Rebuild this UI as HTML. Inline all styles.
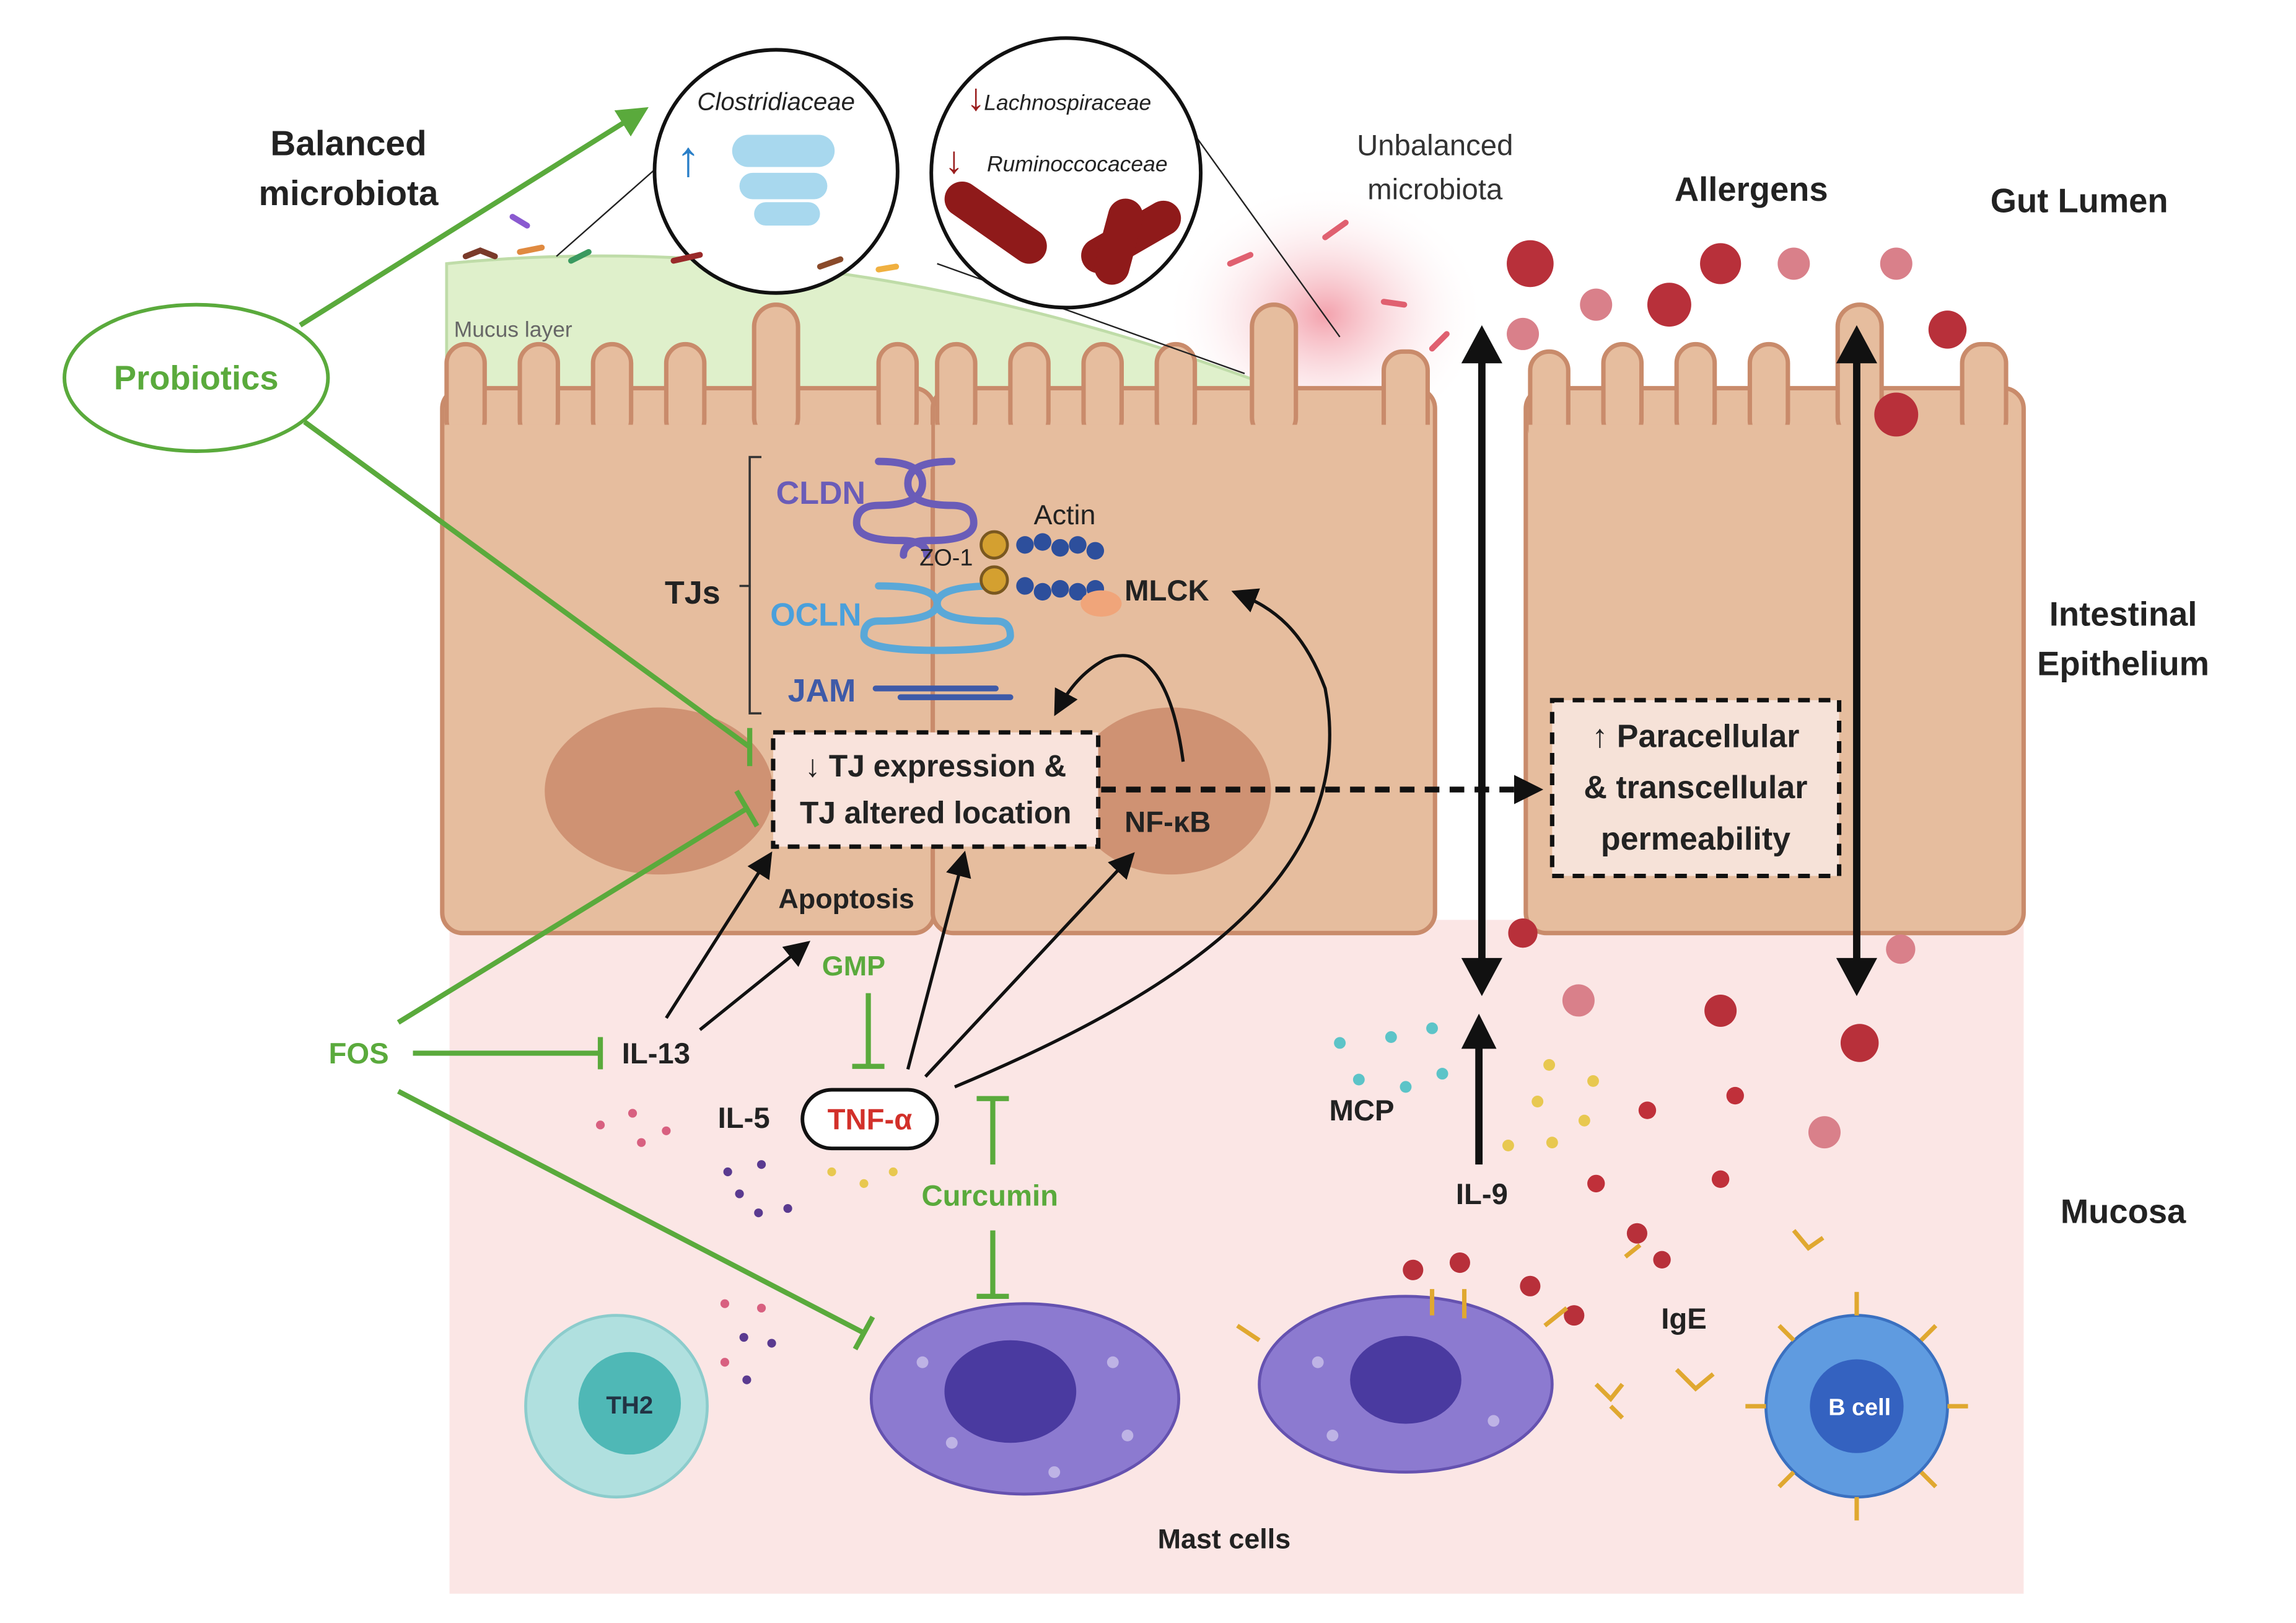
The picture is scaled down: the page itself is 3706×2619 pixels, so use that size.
<!DOCTYPE html>
<html><head><meta charset="utf-8"><style>
html,body{margin:0;padding:0;background:#fff}
svg{display:block}
text{font-family:"Liberation Sans",Arial,sans-serif}
</style></head><body>
<svg width="3706" height="2619" viewBox="0 0 1568 1108" preserveAspectRatio="none" xmlns="http://www.w3.org/2000/svg">
<defs>
<marker id="ah" markerWidth="8" markerHeight="8" refX="6" refY="4" orient="auto" markerUnits="strokeWidth"><path d="M0,0 L8,4 L0,8 z" fill="#111"/></marker>
<marker id="big" markerWidth="5" markerHeight="5" refX="4" refY="2.5" orient="auto" markerUnits="strokeWidth"><path d="M0,0 L5,2.5 L0,5 z" fill="#111"/></marker>
<marker id="gah" markerWidth="6" markerHeight="6" refX="5" refY="3" orient="auto" markerUnits="strokeWidth"><path d="M0,0 L6,3 L0,6 z" fill="#5aaa3c"/></marker>
<radialGradient id="red" cx="0.5" cy="0.5" r="0.5"><stop offset="0" stop-color="#f08a98" stop-opacity="0.8"/><stop offset="1" stop-color="#fff" stop-opacity="0"/></radialGradient>
</defs>
<rect x="307" y="628" width="1075" height="460" fill="#fbe6e5"/>
<ellipse cx="905" cy="215" rx="110" ry="90" fill="url(#red)"/>
<path d="M305,180 Q600,150 935,290 L935,300 L305,300 z" fill="#dff0cb" stroke="#bfdca8" stroke-width="2"/>
<text x="310" y="230" font-size="15" fill="#666">Mucus layer</text>
<g fill="#e6bd9e" stroke="#c98b6b" stroke-width="3">
<rect x="302" y="265" width="336" height="372" rx="14"/>
<rect x="637" y="265" width="343" height="372" rx="14"/>
<rect x="1042" y="265" width="340" height="372" rx="14"/>
<g>
<rect x="305" y="235" width="26" height="65" rx="13"/><rect x="355" y="235" width="26" height="65" rx="13"/><rect x="405" y="235" width="26" height="65" rx="13"/><rect x="455" y="235" width="26" height="65" rx="13"/><rect x="515" y="208" width="30" height="92" rx="15"/><rect x="600" y="235" width="26" height="65" rx="13"/>
<rect x="640" y="235" width="26" height="65" rx="13"/><rect x="690" y="235" width="26" height="65" rx="13"/><rect x="740" y="235" width="26" height="65" rx="13"/><rect x="790" y="235" width="26" height="65" rx="13"/><rect x="855" y="208" width="30" height="92" rx="15"/><rect x="945" y="240" width="30" height="65" rx="13"/>
<rect x="1045" y="240" width="26" height="65" rx="13"/><rect x="1095" y="235" width="26" height="65" rx="13"/><rect x="1145" y="235" width="26" height="65" rx="13"/><rect x="1195" y="235" width="26" height="65" rx="13"/><rect x="1255" y="208" width="30" height="92" rx="15"/><rect x="1340" y="235" width="30" height="65" rx="13"/>
</g>
</g>
<g fill="#e6bd9e"><rect x="304" y="290" width="332" height="30"/><rect x="639" y="290" width="339" height="30"/><rect x="1044" y="290" width="336" height="30"/></g>
<ellipse cx="450" cy="540" rx="78" ry="57" fill="#cf9273"/>
<ellipse cx="800" cy="540" rx="68" ry="57" fill="#cf9273"/>
<g fill="none" stroke-width="5" stroke-linecap="round">
<path d="M600,315 q30,0 30,15 q0,15 -30,15 q-15,0 -15,12 q0,12 30,12 q18,0 18,10" stroke="#6a5cb8"/>
<path d="M650,315 q-30,0 -30,15 q0,15 30,15 q15,0 15,12 q0,12 -30,12 q-18,0 -18,10" stroke="#6a5cb8"/>
<path d="M600,400 q40,0 40,12 q0,12 -40,12 q-10,0 -10,10 q0,10 50,10" stroke="#5aa8d8"/>
<path d="M680,400 q-40,0 -40,12 q0,12 40,12 q10,0 10,10 q0,10 -50,10" stroke="#5aa8d8"/>
<path d="M598,470 L680,470 M615,476 L690,476" stroke="#3e5aa8" stroke-width="4"/>
</g>
<g fill="#2d4f9c">
<circle cx="700" cy="372" r="6"/><circle cx="712" cy="370" r="6"/><circle cx="724" cy="374" r="6"/><circle cx="736" cy="372" r="6"/><circle cx="748" cy="376" r="6"/>
<circle cx="700" cy="400" r="6"/><circle cx="712" cy="404" r="6"/><circle cx="724" cy="402" r="6"/><circle cx="736" cy="404" r="6"/><circle cx="748" cy="402" r="6"/>
</g>
<circle cx="679" cy="372" r="9" fill="#d4a030" stroke="#7a5820" stroke-width="2"/>
<circle cx="679" cy="396" r="9" fill="#d4a030" stroke="#7a5820" stroke-width="2"/>
<ellipse cx="752" cy="412" rx="14" ry="9" fill="#f0a57a"/>
<path d="M520,312 L512,312 L512,487 L520,487 M505,400 L512,400" fill="none" stroke="#333" stroke-width="1.5"/>
<text x="454" y="412" font-size="22" font-weight="bold" fill="#222">TJs</text>
<text x="530" y="344" font-size="22" font-weight="bold" fill="#6a5cb8">CLDN</text>
<text x="526" y="427" font-size="22" font-weight="bold" fill="#4aa0dc">OCLN</text>
<text x="538" y="479" font-size="22" font-weight="bold" fill="#3e5aa8">JAM</text>
<text x="706" y="358" font-size="19" fill="#222">Actin</text>
<text x="628" y="386" font-size="16" fill="#222">ZO-1</text>
<text x="768" y="410" font-size="20" font-weight="bold" fill="#222">MLCK</text>
<rect x="528" y="500" width="222" height="78" fill="#f9e3dc" stroke="#111" stroke-width="3" stroke-dasharray="8,6"/>
<text x="639" y="530" font-size="21" font-weight="bold" fill="#222" text-anchor="middle">↓ TJ expression &amp;</text>
<text x="639" y="562" font-size="21" font-weight="bold" fill="#222" text-anchor="middle">TJ altered location</text>
<text x="768" y="568" font-size="20" font-weight="bold" fill="#222">NF-κB</text>
<rect x="1060" y="478" width="196" height="120" fill="#f6e2d8" stroke="#111" stroke-width="3" stroke-dasharray="8,6"/>
<text x="1158" y="510" font-size="22" font-weight="bold" fill="#222" text-anchor="middle">↑ Paracellular</text>
<text x="1158" y="545" font-size="22" font-weight="bold" fill="#222" text-anchor="middle">&amp; transcellular</text>
<text x="1158" y="580" font-size="22" font-weight="bold" fill="#222" text-anchor="middle">permeability</text>
<line x1="752" y1="539" x2="1050" y2="539" stroke="#111" stroke-width="4" stroke-dasharray="10,7" marker-end="url(#big)"/>
<g stroke="#111" stroke-width="5">
<line x1="1012" y1="240" x2="1012" y2="665"/><line x1="1268" y1="240" x2="1268" y2="665"/>
<line x1="1010" y1="795" x2="1010" y2="705"/>
</g>
<g fill="#111">
<path d="M1012,222 l-14,26 h28 z"/><path d="M1012,680 l-14,-26 h28 z"/>
<path d="M1268,222 l-14,26 h28 z"/><path d="M1268,680 l-14,-26 h28 z"/>
<path d="M1010,692 l-12,24 h24 z"/>
</g>
<g stroke="#111" stroke-width="2.2" fill="none" marker-end="url(#ah)">
<path d="M455,695 L525,585"/>
<path d="M478,703 L550,645"/>
<path d="M620,730 L658,585"/>
<path d="M632,735 L772,585"/>
<path d="M652,742 C800,680 930,600 905,470 C890,430 870,415 845,405"/>
<path d="M808,520 C800,460 780,440 755,450 C740,458 730,470 722,485"/>
</g>
<g stroke="#5aaa3c" stroke-width="3.5" fill="none">
<path d="M205,222 L440,75" marker-end="url(#gah)"/>
<path d="M208,288 L512,510"/><path d="M512,497 L512,523"/>
<path d="M272,698 L510,552"/><path d="M503,540 L517,564"/>
<path d="M282,719 L410,719"/><path d="M410,708 L410,730"/>
<path d="M272,745 L590,910"/><path d="M584,921 L596,899"/>
<path d="M593,678 L593,728"/><path d="M582,728 L604,728"/>
<path d="M678,795 L678,750"/><path d="M667,750 L689,750"/>
<path d="M678,840 L678,885"/><path d="M667,885 L689,885"/>
</g>
<ellipse cx="134" cy="258" rx="90" ry="50" fill="#fff" stroke="#5aaa3c" stroke-width="2.5"/>
<text x="134" y="266" font-size="23" font-weight="bold" fill="#5aaa3c" text-anchor="middle">Probiotics</text>
<text x="245" y="726" font-size="20" font-weight="bold" fill="#5aaa3c" text-anchor="middle">FOS</text>
<text x="583" y="666" font-size="19" font-weight="bold" fill="#5aaa3c" text-anchor="middle">GMP</text>
<text x="676" y="823" font-size="20" font-weight="bold" fill="#5aaa3c" text-anchor="middle">Curcumin</text>
<text x="578" y="620" font-size="19" font-weight="bold" fill="#222" text-anchor="middle">Apoptosis</text>
<text x="448" y="726" font-size="20" font-weight="bold" fill="#222" text-anchor="middle">IL-13</text>
<text x="508" y="770" font-size="20" font-weight="bold" fill="#222" text-anchor="middle">IL-5</text>
<rect x="548" y="744" width="92" height="40" rx="20" fill="#fff" stroke="#111" stroke-width="2.5"/>
<text x="594" y="771" font-size="20" font-weight="bold" fill="#d2302a" text-anchor="middle">TNF-α</text>
<text x="930" y="765" font-size="20" font-weight="bold" fill="#222" text-anchor="middle">MCP</text>
<text x="1012" y="822" font-size="20" font-weight="bold" fill="#222" text-anchor="middle">IL-9</text>
<text x="1150" y="907" font-size="20" font-weight="bold" fill="#222" text-anchor="middle">IgE</text>
<text x="836" y="1057" font-size="19" font-weight="bold" fill="#222" text-anchor="middle">Mast cells</text>
<text x="238" y="106" font-size="24" font-weight="bold" fill="#222" text-anchor="middle">Balanced</text>
<text x="238" y="140" font-size="24" font-weight="bold" fill="#222" text-anchor="middle">microbiota</text>
<text x="980" y="106" font-size="20" fill="#333" text-anchor="middle">Unbalanced</text>
<text x="980" y="136" font-size="20" fill="#333" text-anchor="middle">microbiota</text>
<text x="1196" y="137" font-size="23" font-weight="bold" fill="#222" text-anchor="middle">Allergens</text>
<text x="1420" y="145" font-size="23" font-weight="bold" fill="#222" text-anchor="middle">Gut Lumen</text>
<text x="1450" y="427" font-size="23" font-weight="bold" fill="#222" text-anchor="middle">Intestinal</text>
<text x="1450" y="461" font-size="23" font-weight="bold" fill="#222" text-anchor="middle">Epithelium</text>
<text x="1450" y="835" font-size="23" font-weight="bold" fill="#222" text-anchor="middle">Mucosa</text>
<line x1="380" y1="175" x2="465" y2="100" stroke="#222" stroke-width="1"/>
<line x1="640" y1="180" x2="850" y2="255" stroke="#222" stroke-width="1"/>
<line x1="800" y1="70" x2="915" y2="230" stroke="#222" stroke-width="1"/>
<circle cx="530" cy="117" r="83" fill="#fff" stroke="#111" stroke-width="2.5"/>
<text x="530" y="75" font-size="17" font-style="italic" fill="#222" text-anchor="middle">Clostridiaceae</text>
<text x="470" y="120" font-size="34" fill="#2a7fc8" text-anchor="middle">↑</text>
<g fill="#a8d8ee"><rect x="500" y="92" width="70" height="22" rx="11"/><rect x="505" y="118" width="60" height="18" rx="9"/><rect x="515" y="138" width="45" height="16" rx="8"/></g>
<circle cx="728" cy="118" r="92" fill="#fff" stroke="#111" stroke-width="2.5"/>
<text x="660" y="75" font-size="26" fill="#9a1e1e">↓</text>
<text x="672" y="75" font-size="15" font-style="italic" fill="#222">Lachnospiraceae</text>
<text x="645" y="118" font-size="26" fill="#9a1e1e">↓</text>
<text x="674" y="117" font-size="15" font-style="italic" fill="#222">Ruminoccocaceae</text>
<g fill="#8f1a1a"><rect x="640" y="140" width="80" height="24" rx="12" transform="rotate(35 680 152)"/><rect x="735" y="150" width="75" height="24" rx="12" transform="rotate(-30 772 162)"/><rect x="752" y="135" width="24" height="60" rx="12" transform="rotate(15 764 165)"/></g>
<g fill="#b8303a">
<circle cx="1045" cy="180" r="16"/><circle cx="1140" cy="208" r="15"/><circle cx="1175" cy="180" r="14"/><circle cx="1295" cy="283" r="15"/><circle cx="1330" cy="225" r="13"/><circle cx="1175" cy="690" r="11"/><circle cx="1270" cy="712" r="13"/><circle cx="1040" cy="637" r="10"/>
</g>
<g fill="#d9808a">
<circle cx="1090" cy="208" r="11"/><circle cx="1225" cy="180" r="11"/><circle cx="1295" cy="180" r="11"/><circle cx="1040" cy="228" r="11"/><circle cx="1078" cy="683" r="11"/><circle cx="1298" cy="648" r="10"/><circle cx="1246" cy="773" r="11"/>
</g>
<g fill="#c0303a"><circle cx="1125" cy="758" r="6"/><circle cx="1185" cy="748" r="6"/><circle cx="1090" cy="808" r="6"/><circle cx="1175" cy="805" r="6"/></g>
<g fill="#5cc4c8"><circle cx="915" cy="712" r="4"/><circle cx="950" cy="708" r="4"/><circle cx="978" cy="702" r="4"/><circle cx="928" cy="737" r="4"/><circle cx="960" cy="742" r="4"/><circle cx="985" cy="733" r="4"/></g>
<g fill="#e8c850"><circle cx="1058" cy="727" r="4"/><circle cx="1088" cy="738" r="4"/><circle cx="1050" cy="752" r="4"/><circle cx="1082" cy="765" r="4"/><circle cx="1030" cy="782" r="4"/><circle cx="1060" cy="780" r="4"/><circle cx="568" cy="800" r="3"/><circle cx="590" cy="808" r="3"/><circle cx="610" cy="800" r="3"/></g>
<g fill="#d86080"><circle cx="410" cy="768" r="3"/><circle cx="432" cy="760" r="3"/><circle cx="455" cy="772" r="3"/><circle cx="438" cy="780" r="3"/><circle cx="495" cy="890" r="3"/><circle cx="520" cy="893" r="3"/><circle cx="495" cy="930" r="3"/></g>
<g fill="#5a3a90"><circle cx="497" cy="800" r="3"/><circle cx="520" cy="795" r="3"/><circle cx="505" cy="815" r="3"/><circle cx="538" cy="825" r="3"/><circle cx="518" cy="828" r="3"/><circle cx="508" cy="913" r="3"/><circle cx="527" cy="917" r="3"/><circle cx="510" cy="942" r="3"/></g>
<circle cx="421" cy="960" r="62" fill="#b0e0df" stroke="#8ccccc" stroke-width="2"/>
<circle cx="430" cy="958" r="35" fill="#4fb8b6"/>
<text x="430" y="965" font-size="17" font-weight="bold" fill="#234" text-anchor="middle">TH2</text>
<ellipse cx="700" cy="955" rx="105" ry="65" fill="#8c7ad0" stroke="#6552b0" stroke-width="2"/>
<ellipse cx="690" cy="950" rx="45" ry="35" fill="#4a3aa0"/>
<ellipse cx="960" cy="945" rx="100" ry="60" fill="#8c7ad0" stroke="#6552b0" stroke-width="2"/>
<ellipse cx="960" cy="942" rx="38" ry="30" fill="#4a3aa0"/>
<g fill="#e0d8f4" opacity="0.6"><circle cx="630" cy="930" r="4"/><circle cx="650" cy="985" r="4"/><circle cx="760" cy="930" r="4"/><circle cx="770" cy="980" r="4"/><circle cx="720" cy="1005" r="4"/><circle cx="900" cy="930" r="4"/><circle cx="1020" cy="970" r="4"/><circle cx="910" cy="980" r="4"/></g>
<g fill="#b8303a"><circle cx="965" cy="867" r="7"/><circle cx="997" cy="862" r="7"/><circle cx="1045" cy="878" r="7"/><circle cx="1075" cy="898" r="7"/><circle cx="1118" cy="842" r="7"/><circle cx="1135" cy="860" r="6"/></g>
<g stroke="#e0a830" stroke-width="3" fill="none">
<path d="M978,898 L978,880 M1000,900 L1000,880 M860,915 L845,905 M1055,905 L1070,893 M1110,858 L1120,850 M1225,840 L1235,852 L1245,845 M1090,945 L1100,955 L1108,945 M1145,935 L1158,948 L1170,938 M1100,960 L1108,968"/>
</g>
<circle cx="1268" cy="960" r="62" fill="#5f9be0" stroke="#3a70c0" stroke-width="2"/>
<circle cx="1268" cy="960" r="32" fill="#3462c0"/>
<text x="1270" y="966" font-size="16" font-weight="bold" fill="#fff" text-anchor="middle">B cell</text>
<g stroke="#e0a830" stroke-width="3" fill="none">
<path d="M1268,898 L1268,882 M1268,1022 L1268,1038 M1206,960 L1192,960 M1330,960 L1344,960 M1225,915 L1215,905 M1312,915 L1322,905 M1225,1005 L1215,1015 M1312,1005 L1322,1015"/>
</g>
<g stroke-width="4" stroke-linecap="round" fill="none">
<path d="M318,175 l10,-4 l10,4" stroke="#7a3a2a"/><path d="M350,148 l10,6" stroke="#8a5ad0"/><path d="M355,172 l15,-3" stroke="#e08a40"/><path d="M390,178 l12,-6" stroke="#3a9a60"/><path d="M460,178 l18,-4" stroke="#9a2a2a"/><path d="M560,182 l14,-5" stroke="#8a4a2a"/><path d="M600,184 l12,-2" stroke="#f0b040"/><path d="M840,180 l14,-6" stroke="#e06070"/><path d="M905,162 l14,-10" stroke="#e06070"/><path d="M945,206 l14,2" stroke="#e06070"/><path d="M978,238 l10,-10" stroke="#e06070"/></g>
</svg>
</body></html>
